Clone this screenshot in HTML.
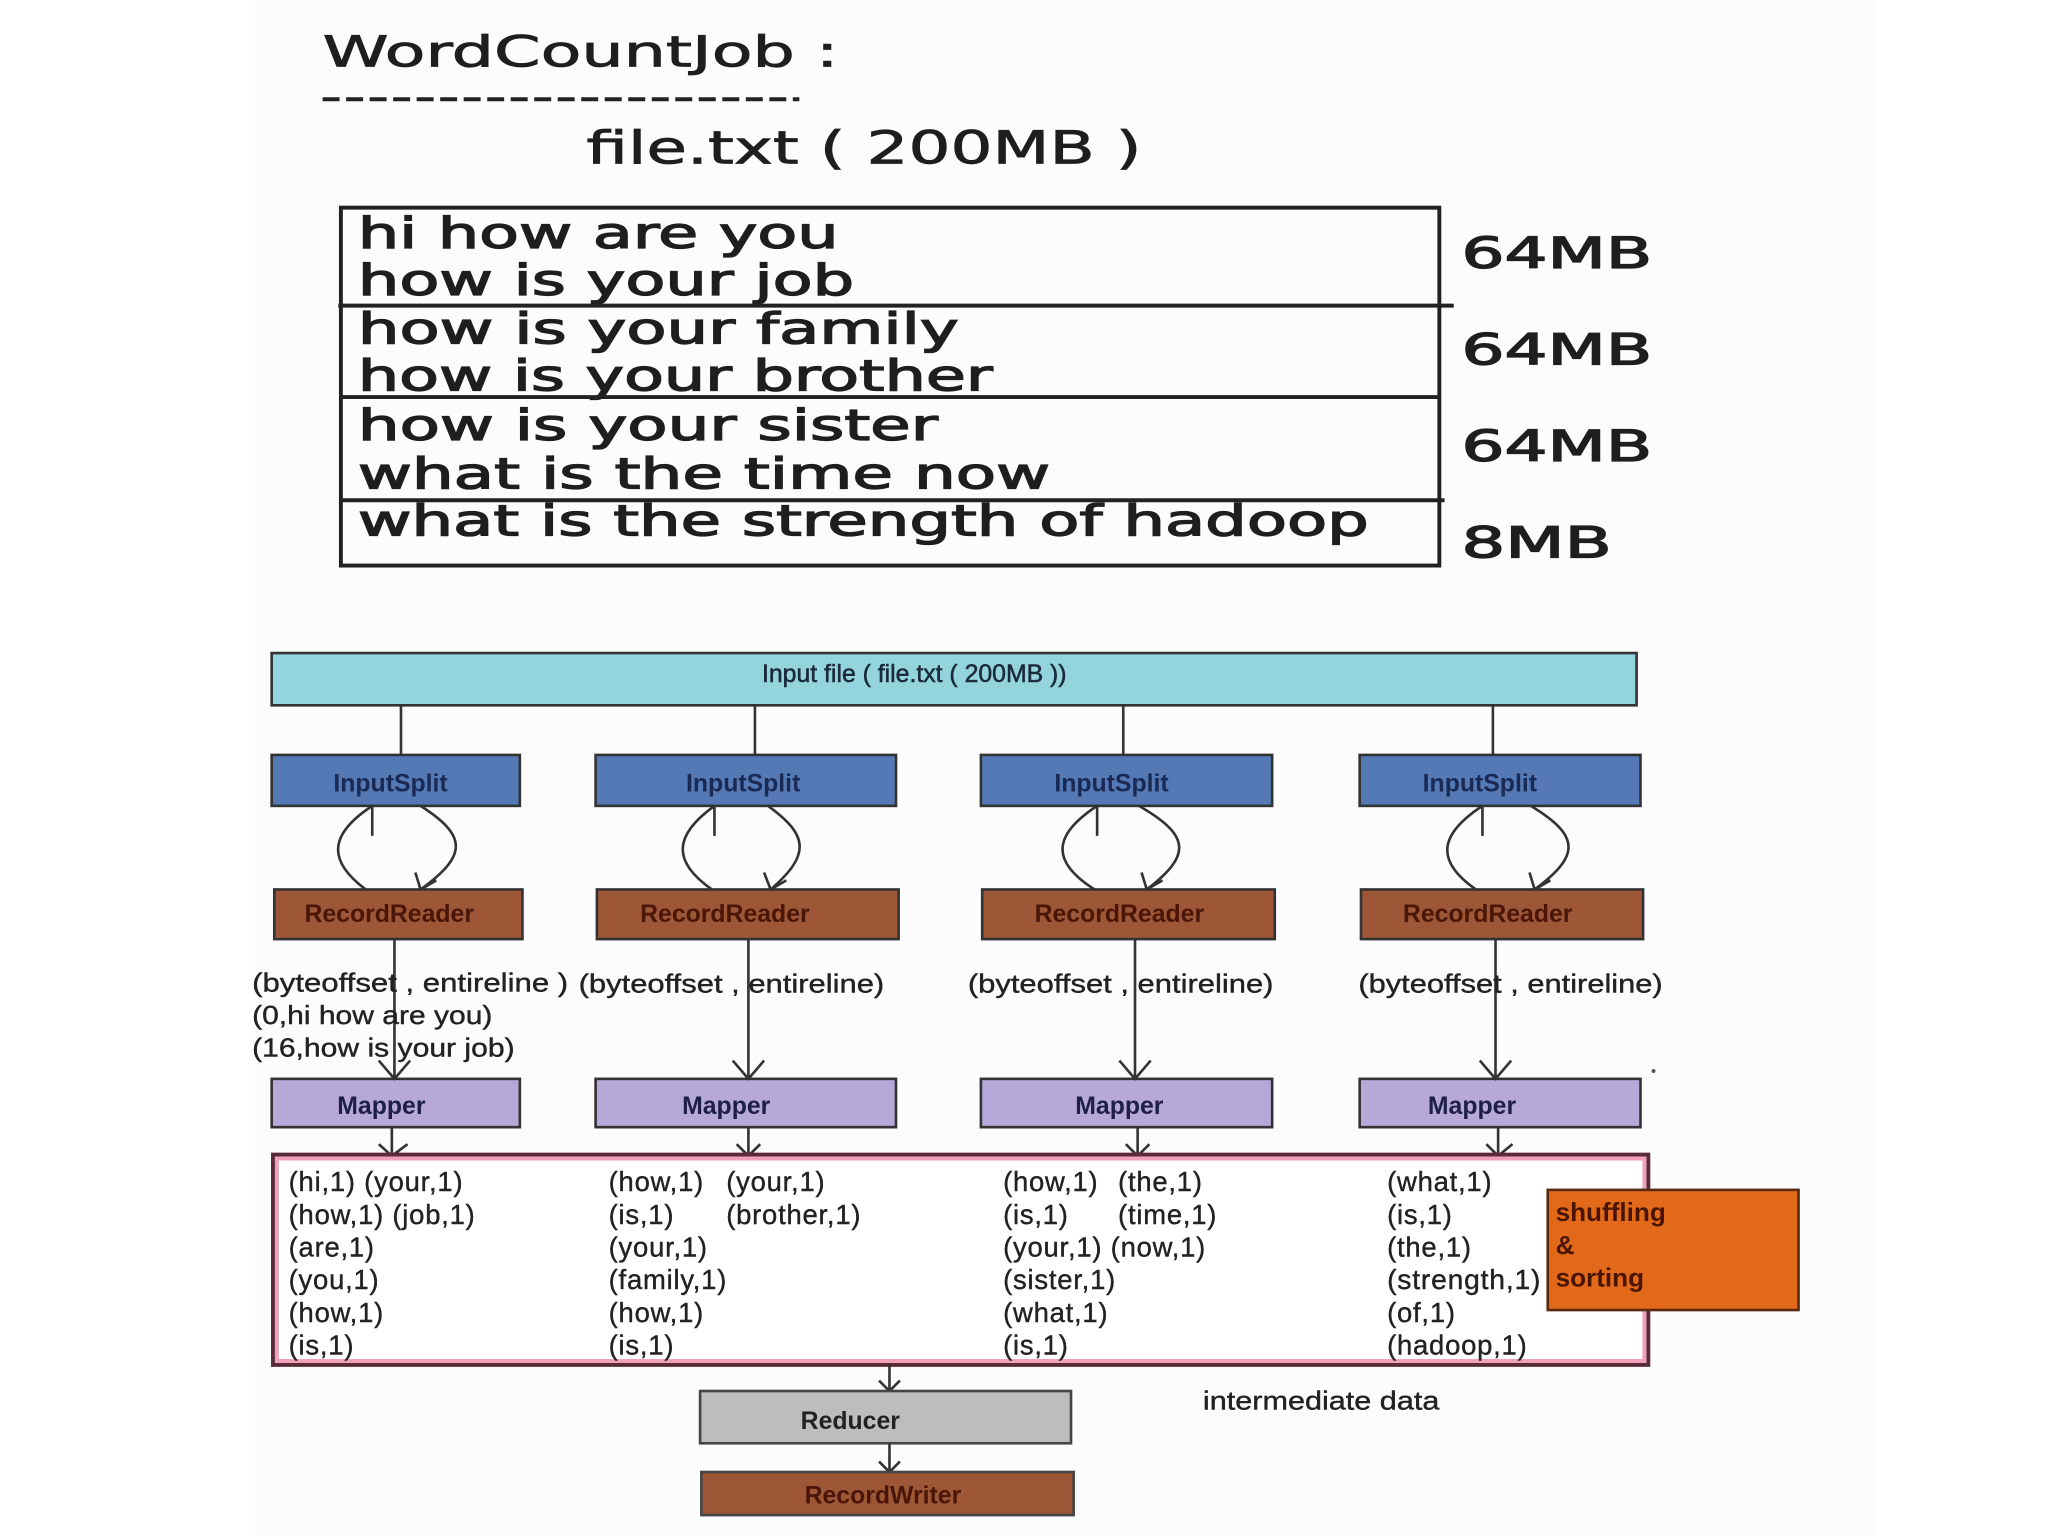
<!DOCTYPE html>
<html><head><meta charset="utf-8"><style>
html,body{margin:0;padding:0;background:#fff;}
svg{display:block;}
</style></head><body>
<svg width="2048" height="1536" viewBox="0 0 1568 1176" xmlns="http://www.w3.org/2000/svg" font-family="'Liberation Sans', sans-serif">
<rect width="1568" height="1176" fill="#fff"/>
<rect x="195" y="0" width="1240" height="1176" fill="#fcfcfc"/>
<!-- Top section -->
<g fill="#1e1e1e" font-family="'DejaVu Sans', sans-serif">
<text x="247" y="51" font-size="33" stroke="#1e1e1e" stroke-width="0.6" textLength="395" lengthAdjust="spacingAndGlyphs">WordCountJob :</text>
<text x="449" y="125" font-size="35" stroke="#1e1e1e" stroke-width="0.6" textLength="425" lengthAdjust="spacingAndGlyphs">file.txt ( 200MB )</text>
<g font-size="33" stroke="#1e1e1e" stroke-width="1">
<text x="274" y="190" textLength="368" lengthAdjust="spacingAndGlyphs">hi how are you</text>
<text x="274" y="226" textLength="380" lengthAdjust="spacingAndGlyphs">how is your job</text>
<text x="274" y="263" textLength="460" lengthAdjust="spacingAndGlyphs">how is your family</text>
<text x="274" y="299" textLength="486" lengthAdjust="spacingAndGlyphs">how is your brother</text>
<text x="274" y="337" textLength="444" lengthAdjust="spacingAndGlyphs">how is your sister</text>
<text x="274" y="374" textLength="530" lengthAdjust="spacingAndGlyphs">what is the time now</text>
<text x="274" y="410" textLength="774" lengthAdjust="spacingAndGlyphs">what is the strength of hadoop</text>
<text x="1119" y="205" textLength="146" lengthAdjust="spacingAndGlyphs">64MB</text>
<text x="1119" y="279" textLength="146" lengthAdjust="spacingAndGlyphs">64MB</text>
<text x="1119" y="353" textLength="146" lengthAdjust="spacingAndGlyphs">64MB</text>
<text x="1119" y="427" textLength="115" lengthAdjust="spacingAndGlyphs">8MB</text>
</g>
</g>
<line x1="247" y1="76" x2="612" y2="76" stroke="#222" stroke-width="3" stroke-dasharray="13,5"/>
<g stroke="#222" stroke-width="3" fill="none">
<rect x="261" y="159" width="841" height="274"/>
<line x1="259" y1="234" x2="1113" y2="234"/>
<line x1="261" y1="304" x2="1102" y2="304"/>
<line x1="261" y1="383" x2="1106" y2="383"/>
</g>

<!-- Diagram -->
<g stroke="#333" stroke-width="2">
<rect x="208" y="500" width="1045" height="40" fill="#93d4dd"/>
<line x1="307" y1="540" x2="307" y2="578"/>
<line x1="578" y1="540" x2="578" y2="578"/>
<line x1="860" y1="540" x2="860" y2="578"/>
<line x1="1143" y1="540" x2="1143" y2="578"/>
<g fill="#5479b4">
<rect x="208" y="578" width="190" height="39"/>
<rect x="456" y="578" width="230" height="39"/>
<rect x="751" y="578" width="223" height="39"/>
<rect x="1041" y="578" width="215" height="39"/>
</g>
<g fill="#9d5636">
<rect x="210" y="681" width="190" height="38"/>
<rect x="457" y="681" width="231" height="38"/>
<rect x="752" y="681" width="224" height="38"/>
<rect x="1042" y="681" width="216" height="38"/>
</g>
<g fill="#b6a8d8">
<rect x="208" y="826" width="190" height="37"/>
<rect x="456" y="826" width="230" height="37"/>
<rect x="751" y="826" width="223" height="37"/>
<rect x="1041" y="826" width="215" height="37"/>
</g>
</g>
<!-- loops -->
<g stroke="#333" stroke-width="2" fill="none">
<path d="M280 681 C252 660 250 640 285 617 M285 617 L285 640 M322 617 C358 640 358 655 322 681 M318 668 L322 681 L334 674"/>
<path d="M545 681 C515 660 515 640 547 617 M547 617 L547 640 M588 617 C620 640 620 655 590 681 M585 668 L590 681 L602 674"/>
<path d="M838 681 C805 660 805 640 840 617 M840 617 L840 640 M872 617 C912 640 912 655 878 681 M874 668 L878 681 L890 674"/>
<path d="M1130 681 C1100 660 1100 640 1135 617 M1135 617 L1135 640 M1172 617 C1210 640 1210 655 1175 681 M1171 668 L1175 681 L1187 674"/>
<path d="M302 719 L302 826 M290 812 L302 826 L314 812"/>
<path d="M573 719 L573 826 M561 812 L573 826 L585 812"/>
<path d="M869 719 L869 826 M857 812 L869 826 L881 812"/>
<path d="M1145 719 L1145 826 M1133 812 L1145 826 L1157 812"/>
<path d="M300 863 L300 885 M290 876 L300 885 L312 876"/>
<path d="M573 863 L573 885 M564 876 L573 885 L582 876"/>
<path d="M871 863 L871 885 M862 876 L871 885 L880 876"/>
<path d="M1147 863 L1147 885 M1138 876 L1147 885 L1158 876"/>
</g>
<rect x="209" y="884" width="1053" height="161" fill="#fff" stroke="#5a2a36" stroke-width="3"/>
<rect x="212" y="887" width="1047" height="155" fill="none" stroke="#f0a0b8" stroke-width="3"/>
<g stroke="#333" stroke-width="2" fill="none">
<path d="M681 1045 L681 1065 M673 1057 L681 1065 L689 1057"/>
<path d="M681 1105 L681 1127 M673 1119 L681 1127 L689 1119"/>
</g>
<rect x="1185" y="911" width="192" height="92" fill="#e2691a" stroke="#5a2a10" stroke-width="2"/>
<rect x="536" y="1065" width="284" height="40" fill="#bdbdbd" stroke="#444" stroke-width="2"/>
<rect x="537" y="1127" width="285" height="33" fill="#9d5636" stroke="#444" stroke-width="2"/>
<circle cx="1266" cy="820" r="1.5" fill="#555"/>

<!-- labels -->
<g font-size="19" text-anchor="middle" font-weight="bold">
<text x="700" y="522" fill="#1a2a3a" font-weight="normal" stroke="#1a2a3a" stroke-width="0.4">Input file ( file.txt ( 200MB ))</text>
<g fill="#1a2a55">
<text x="299" y="606">InputSplit</text>
<text x="569" y="606">InputSplit</text>
<text x="851" y="606">InputSplit</text>
<text x="1133" y="606">InputSplit</text>
</g>
<g fill="#4a1608">
<text x="298" y="706">RecordReader</text>
<text x="555" y="706">RecordReader</text>
<text x="857" y="706">RecordReader</text>
<text x="1139" y="706">RecordReader</text>
</g>
<g fill="#1e1e4a">
<text x="292" y="853">Mapper</text>
<text x="556" y="853">Mapper</text>
<text x="857" y="853">Mapper</text>
<text x="1127" y="853">Mapper</text>
</g>
<text x="651" y="1094" fill="#222">Reducer</text>
<text x="676" y="1151" fill="#4a1608">RecordWriter</text>
</g>
<g font-size="20" fill="#222" stroke="#222" stroke-width="0.3">
<text x="193" y="759" textLength="242" lengthAdjust="spacingAndGlyphs">(byteoffset , entireline )</text>
<text x="193" y="784" textLength="184" lengthAdjust="spacingAndGlyphs">(0,hi how are you)</text>
<text x="193" y="809" textLength="201" lengthAdjust="spacingAndGlyphs">(16,how is your job)</text>
<text x="443" y="760" textLength="234" lengthAdjust="spacingAndGlyphs">(byteoffset , entireline)</text>
<text x="741" y="760" textLength="234" lengthAdjust="spacingAndGlyphs">(byteoffset , entireline)</text>
<text x="1040" y="760" textLength="233" lengthAdjust="spacingAndGlyphs">(byteoffset , entireline)</text>
<text x="921" y="1079" textLength="181" lengthAdjust="spacingAndGlyphs">intermediate data</text>
</g>
<g font-size="21" fill="#222" letter-spacing="0.6" stroke="#222" stroke-width="0.3">
<text x="221" y="912">(hi,1) (your,1)</text>
<text x="221" y="937">(how,1) (job,1)</text>
<text x="221" y="962">(are,1)</text>
<text x="221" y="987">(you,1)</text>
<text x="221" y="1012">(how,1)</text>
<text x="221" y="1037">(is,1)</text>
<text x="466" y="912">(how,1)</text><text x="556" y="912">(your,1)</text>
<text x="466" y="937">(is,1)</text><text x="556" y="937">(brother,1)</text>
<text x="466" y="962">(your,1)</text>
<text x="466" y="987">(family,1)</text>
<text x="466" y="1012">(how,1)</text>
<text x="466" y="1037">(is,1)</text>
<text x="768" y="912">(how,1)</text><text x="856" y="912">(the,1)</text>
<text x="768" y="937">(is,1)</text><text x="856" y="937">(time,1)</text>
<text x="768" y="962">(your,1) (now,1)</text>
<text x="768" y="987">(sister,1)</text>
<text x="768" y="1012">(what,1)</text>
<text x="768" y="1037">(is,1)</text>
<text x="1062" y="912">(what,1)</text>
<text x="1062" y="937">(is,1)</text>
<text x="1062" y="962">(the,1)</text>
<text x="1062" y="987" textLength="118" lengthAdjust="spacingAndGlyphs">(strength,1)</text>
<text x="1062" y="1012">(of,1)</text>
<text x="1062" y="1037">(hadoop,1)</text>
</g>
<g font-size="20" fill="#4a1500" font-weight="bold">
<text x="1191" y="935">shuffling</text>
<text x="1191" y="960">&amp;</text>
<text x="1191" y="985">sorting</text>
</g>
</svg>
</body></html>
